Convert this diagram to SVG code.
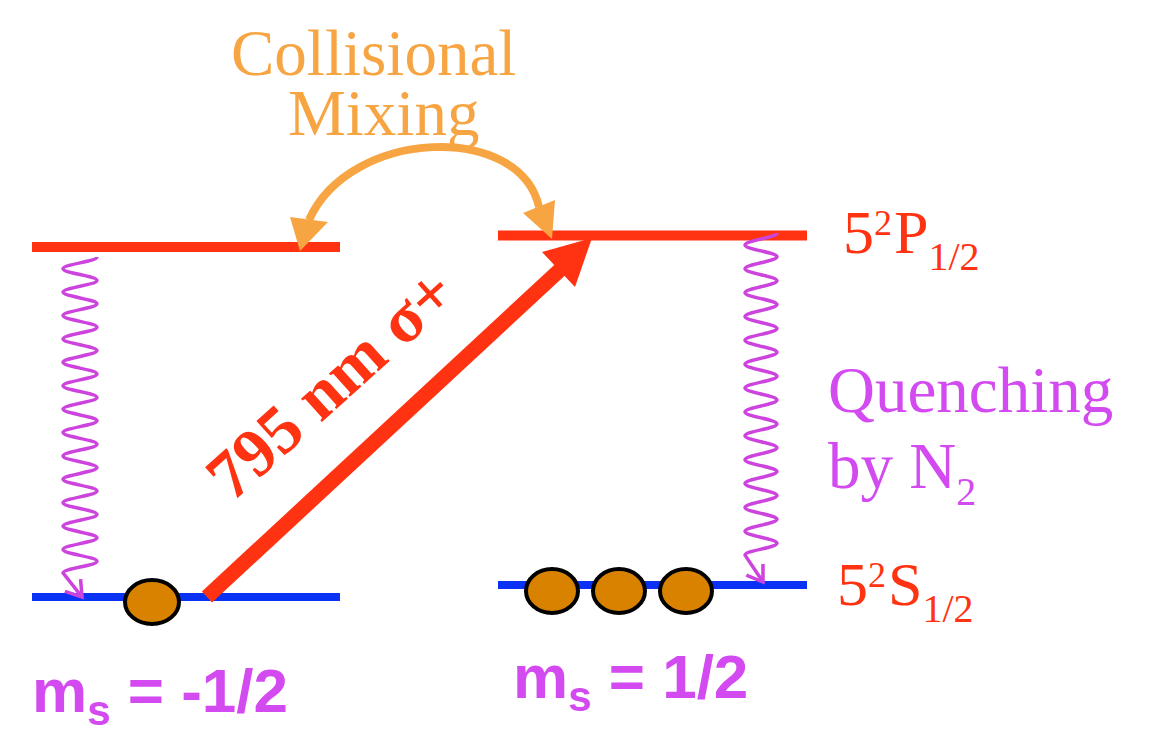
<svg xmlns="http://www.w3.org/2000/svg" width="1150" height="750" viewBox="0 0 1150 750">
<style>
.serif{font-family:"Liberation Serif","Times New Roman",serif}
.sans{font-family:"Liberation Sans",Arial,sans-serif;font-weight:bold}
.red{fill:#FF3311}
.orange{fill:#F7A543}
.purple{fill:#D24AF0}
.upper{stroke:#FF3311;stroke-width:10}
.lower{stroke:#0A32F5;stroke-width:8}
.atom{fill:#D98200;stroke:#000;stroke-width:4}
.wave{fill:none;stroke:#CC44DD;stroke-width:3.5;stroke-linejoin:round}
</style>
<defs>
<marker id="vhead" markerUnits="userSpaceOnUse" markerWidth="30" markerHeight="30" refX="0" refY="0" orient="auto" overflow="visible">
<path d="M-15,-10 L0,0 L-15,10" fill="none" stroke="#CC44DD" stroke-width="3.5"/>
</marker>
</defs>
<rect width="1150" height="750" fill="#fff"/>

<g id="level-left">
<line class="upper" x1="32" y1="247" x2="340" y2="247"/>
<line class="lower" x1="32" y1="597" x2="340" y2="597"/>
</g>
<g id="level-right">
<line class="upper" x1="498" y1="235.5" x2="807" y2="235.5"/>
<line class="lower" x1="498" y1="585" x2="807" y2="585"/>
</g>

<g id="connectors">
<path class="wave" marker-end="url(#vhead)" d="M97,257 c0,4.26 -34,7.44 -34,11.7 s34,7.44 34,11.7 s-34,7.44 -34,11.7 s34,7.44 34,11.7 s-34,7.44 -34,11.7 s34,7.44 34,11.7 s-34,7.44 -34,11.7 s34,7.44 34,11.7 s-34,7.44 -34,11.7 s34,7.44 34,11.7 s-34,7.44 -34,11.7 s34,7.44 34,11.7 s-34,7.44 -34,11.7 s34,7.44 34,11.7 s-34,7.44 -34,11.7 s34,7.44 34,11.7 s-34,7.44 -34,11.7 s34,7.44 34,11.7 s-34,7.44 -34,11.7 s34,7.44 34,11.7 s-34,7.44 -34,11.7 s34,7.44 34,11.7 s-34,7.44 -34,11.7 s34,7.44 34,11.7 s-34,7.44 -34,11.7 s34,7.44 34,11.7 s-34,7.44 -34,11.7 L82,597"/>
<path class="wave" marker-end="url(#vhead)" d="M777,233 c0,4.35 -32,7.58 -32,11.93 s32,7.58 32,11.93 s-32,7.58 -32,11.93 s32,7.58 32,11.93 s-32,7.58 -32,11.93 s32,7.58 32,11.93 s-32,7.58 -32,11.93 s32,7.58 32,11.93 s-32,7.58 -32,11.93 s32,7.58 32,11.93 s-32,7.58 -32,11.93 s32,7.58 32,11.93 s-32,7.58 -32,11.93 s32,7.58 32,11.93 s-32,7.58 -32,11.93 s32,7.58 32,11.93 s-32,7.58 -32,11.93 s32,7.58 32,11.93 s-32,7.58 -32,11.93 s32,7.58 32,11.93 s-32,7.58 -32,11.93 s32,7.58 32,11.93 s-32,7.58 -32,11.93 s32,7.58 32,11.93 s-32,7.58 -32,11.93 s32,7.58 32,11.93 s-32,7.58 -32,11.93 L763,582"/>
<path d="M309,220 C350,128 520,122 539,207" fill="none" stroke="#F7A543" stroke-width="8"/>
<polygon points="290,217 328,222 300,251" fill="#F7A543"/>
<polygon points="523,213 555,200 552,239" fill="#F7A543"/>
<line x1="207" y1="597" x2="562" y2="268" stroke="#FF3311" stroke-width="15"/>
<polygon points="592,238 542,252 575,287" fill="#FF3311"/>
</g>

<g id="atoms-left">
<ellipse class="atom" cx="152" cy="602" rx="27" ry="22"/>
</g>
<g id="atoms-right">
<ellipse class="atom" cx="552" cy="591" rx="26" ry="22"/>
<ellipse class="atom" cx="619" cy="591" rx="26" ry="22"/>
<ellipse class="atom" cx="686" cy="591" rx="26" ry="22"/>
</g>

<g id="labels">
<text class="serif orange" font-size="65" x="231" y="75">Collisional</text>
<text class="serif orange" font-size="65" x="288" y="135">Mixing</text>
<text class="serif red" font-size="68" font-weight="bold" transform="translate(232,503) rotate(-42)">795 nm σ+</text>
<text class="serif red" font-size="62" x="843" y="253">5<tspan font-size="36" dy="-18">2</tspan><tspan dy="18" dx="2">P</tspan><tspan font-size="40" dy="17">1/2</tspan></text>
<text class="serif red" font-size="62" x="837" y="605">5<tspan font-size="36" dy="-18">2</tspan><tspan dy="18" dx="2">S</tspan><tspan font-size="40" dy="17">1/2</tspan></text>
<text class="serif purple" font-size="65" x="828" y="412">Quenching</text>
<text class="serif purple" font-size="65" x="828" y="488">by N<tspan font-size="40" dy="17">2</tspan></text>
<text class="sans purple" font-size="62" x="32" y="712">m<tspan font-size="42" dy="13">s</tspan><tspan dy="-13"> = -1/2</tspan></text>
<text class="sans purple" font-size="62" x="513" y="698">m<tspan font-size="42" dy="13">s</tspan><tspan dy="-13"> = 1/2</tspan></text>
</g>
</svg>
